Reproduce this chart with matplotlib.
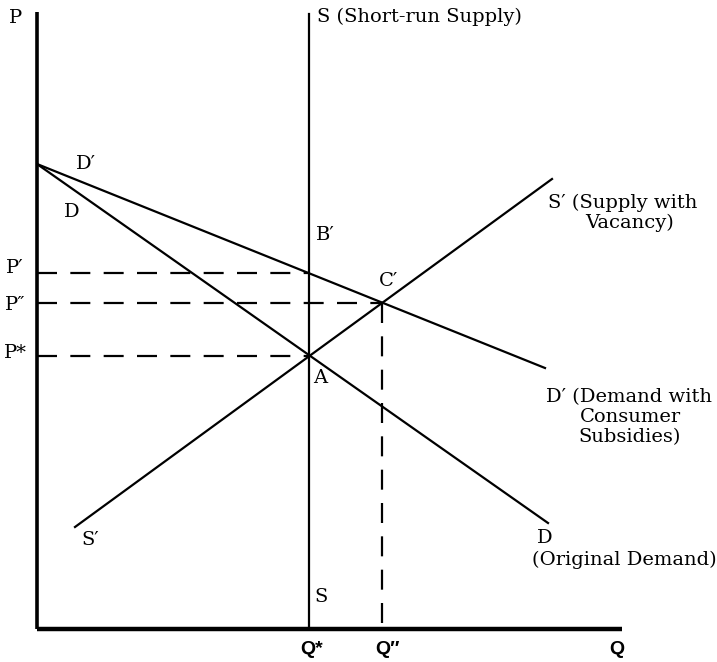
import matplotlib.pyplot as plt

# 좌표: Q(수량), P(가격) — 원점 기준 단위
q_star, q_dd = 272, 345
p_star, p_dd, p_prime = 273, 326, 356

# 곡선 끝점
D_q = [0, 511]
D_p = [465, 106]
Dp_q = [0, 508]
Dp_p = [465, 261]
Sp_q = [38, 515]
Sp_p = [102, 450]
S_top = 615
q_axis_end, p_axis_end = 585, 617

serif = ['DejaVu Serif']
fs = 14

fig = plt.figure(figsize=(7.17, 6.62), dpi=100)
# 원점이 (37, 629) 픽셀에 오도록 축 배치
ax = fig.add_axes([37 / 717, 33 / 662, 680 / 717, 629 / 662])
ax.set_xlim(0, 680)
ax.set_ylim(0, 629)
ax.axis('off')

# 축
ax.plot([0, 0], [0, p_axis_end], color='black', lw=2.6, clip_on=False, solid_capstyle='butt')
ax.plot([0, q_axis_end], [0, 0], color='black', lw=3.2, clip_on=False, solid_capstyle='butt')

# 곡선
ax.plot([q_star, q_star], [0, S_top], color='black', lw=1.6)
ax.plot(D_q, D_p, color='black', lw=1.6)
ax.plot(Dp_q, Dp_p, color='black', lw=1.6)
ax.plot(Sp_q, Sp_p, color='black', lw=1.6)

# 점선
dash = dict(color='black', lw=1.6, dashes=(9, 6))
ax.plot([0, q_star], [p_prime, p_prime], **dash)
ax.plot([0, q_dd], [p_dd, p_dd], **dash)
ax.plot([0, q_star], [p_star, p_star], **dash)
ax.plot([q_dd, q_dd], [p_dd, 0], **dash)


# 픽셀 좌표 -> 데이터 좌표 변환
def px(x, y):
    return x - 37, 629 - y


def label(x, y, s, ha='center', va='center', **kw):
    kw.setdefault('family', serif)
    kw.setdefault('fontsize', fs)
    qx, py = px(x, y)
    ax.text(qx, py, s, ha=ha, va=va, clip_on=False, **kw)


label(16, 18, 'P')
label(15, 268, 'P′')
label(15, 305, 'P″')
label(15, 353, 'P*')
label(86, 164, 'D′')
label(72, 212, 'D')
label(317, 17, 'S (Short-run Supply)', ha='left')
label(316, 235, 'B′', ha='left')
label(388, 281, 'C′')
label(320, 378, 'A')
label(548, 203, 'S′ (Supply with', ha='left')
label(630, 223, 'Vacancy)')
label(546, 397, 'D′ (Demand with', ha='left')
label(630, 417, 'Consumer')
label(630, 437, 'Subsidies)')
label(90, 540, 'S′')
label(545, 538, 'D')
label(624, 560, '(Original Demand)')
label(321, 597, 'S')

sans = dict(family=['Liberation Sans', 'DejaVu Sans'], fontweight='bold', fontsize=14)
label(312, 649, 'Q*', **sans)
label(387, 649, 'Q″', **sans)
label(617, 649, 'Q', **sans)

fig.savefig('out.png', dpi=100)
